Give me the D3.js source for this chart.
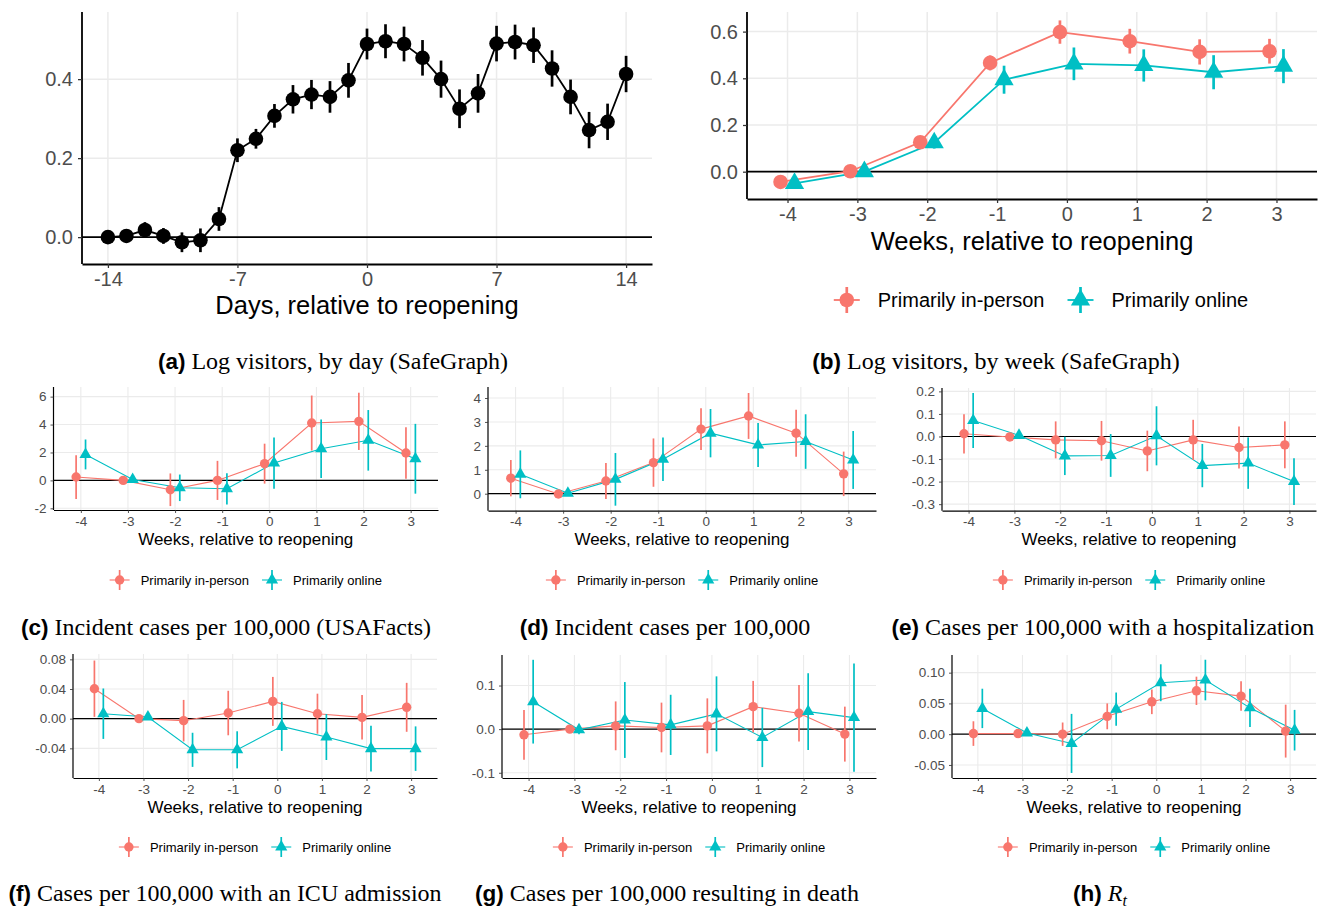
<!DOCTYPE html>
<html>
<head>
<meta charset="utf-8">
<script src="https://cdn.jsdelivr.net/npm/d3@7"></script>
<style>
  body { margin: 0; background: #fff; }
  svg text { font-family: "Liberation Sans", Arial, sans-serif; }
  .cap { font-family: "Liberation Serif", "Times New Roman", serif; }
</style>
</head>
<body>
<svg id="chart" width="1318" height="908"></svg>
<script>
// ---- data ----
const days = [-14, -13, -12, -11, -10, -9, -8, -7, -6, -5, -4, -3, -2, -1, 0, 1, 2, 3, 4, 5, 6, 7, 8, 9, 10, 11, 12, 13, 14];
const weeks = [-4, -3, -2, -1, 0, 1, 2, 3];

// (a) log visitors by day
const aEst = [0.0, 0.003, 0.018, 0.003, -0.013, -0.008, 0.046, 0.220, 0.249, 0.307, 0.349, 0.361, 0.355, 0.397,
  0.489, 0.496, 0.489, 0.454, 0.400, 0.325, 0.364, 0.490, 0.494, 0.486, 0.427, 0.355, 0.271, 0.292, 0.413];
const aErr = [0.015, 0.017, 0.02, 0.02, 0.025, 0.03, 0.03, 0.03, 0.025, 0.03, 0.036, 0.037, 0.04, 0.044,
  0.039, 0.043, 0.044, 0.045, 0.047, 0.049, 0.049, 0.045, 0.044, 0.045, 0.046, 0.044, 0.046, 0.046, 0.046];

// (b) log visitors by week
const bInPerson = [-0.044, 0.002, 0.126, 0.466, 0.598, 0.559, 0.513, 0.516];
const bInPersonErr = [0.015, 0.012, 0.02, 0.032, 0.05, 0.053, 0.054, 0.053];
const bOnline = [-0.05, 0.0, 0.124, 0.394, 0.462, 0.455, 0.426, 0.452];
const bOnlineErr = [0.02, 0.015, 0.025, 0.06, 0.07, 0.069, 0.073, 0.073];

// (c) incident cases (USAFacts)
const cInPerson = [0.24, 0.0, -0.67, 0.0, 1.2, 4.11, 4.23, 1.96];
const cInPersonErr = [1.57, 0.1, 1.17, 1.4, 1.43, 1.97, 2.05, 1.85];
const cOnline = [1.86, 0.07, -0.53, -0.6, 1.24, 2.27, 2.87, 1.55];
const cOnlineErr = [1.07, 0.2, 0.95, 1.12, 1.83, 2.1, 2.17, 2.5];

// (d) incident cases
const dInPerson = [0.65, -0.01, 0.53, 1.3, 2.7, 3.25, 2.53, 0.83];
const dInPersonErr = [0.76, 0.05, 0.75, 1.01, 0.87, 0.96, 0.98, 0.93];
const dOnline = [0.81, 0.02, 0.6, 1.44, 2.53, 2.04, 2.18, 1.41];
const dOnlineErr = [1.0, 0.1, 1.1, 0.91, 1.01, 0.92, 1.14, 1.21];

// (e) hospitalization
const eInPerson = [0.012, -0.002, -0.015, -0.019, -0.064, -0.015, -0.049, -0.037];
const eInPersonErr = [0.087, 0.008, 0.082, 0.088, 0.09, 0.089, 0.093, 0.104];
const eOnline = [0.071, 0.005, -0.086, -0.084, 0.003, -0.129, -0.118, -0.2];
const eOnlineErr = [0.122, 0.01, 0.085, 0.095, 0.131, 0.096, 0.114, 0.104];

// (f) ICU admission
const fInPerson = [0.0404, 0.0, -0.0027, 0.0076, 0.0233, 0.0067, 0.0018, 0.0153];
const fInPersonErr = [0.038, 0.002, 0.028, 0.03, 0.033, 0.027, 0.03, 0.033];
const fOnline = [0.0067, 0.0022, -0.042, -0.042, -0.0104, -0.0247, -0.0404, -0.0404];
const fOnlineErr = [0.034, 0.003, 0.023, 0.025, 0.033, 0.031, 0.031, 0.03];

// (g) death
const gInPerson = [-0.013, 0.0, 0.0076, 0.0038, 0.0076, 0.0516, 0.0365, -0.0114];
const gInPersonErr = [0.057, 0.004, 0.056, 0.057, 0.063, 0.059, 0.065, 0.063];
const gOnline = [0.063, -0.0015, 0.021, 0.0098, 0.035, -0.019, 0.0402, 0.0265];
const gOnlineErr = [0.096, 0.01, 0.087, 0.069, 0.086, 0.068, 0.088, 0.124];

// (h) Rt
const hInPerson = [0.001, 0.001, 0.0, 0.029, 0.0526, 0.0705, 0.0619, 0.005];
const hInPersonErr = [0.02, 0.003, 0.019, 0.021, 0.02, 0.023, 0.024, 0.043];
const hOnline = [0.0419, 0.002, -0.015, 0.0407, 0.0836, 0.088, 0.0428, 0.0065];
const hOnlineErr = [0.032, 0.004, 0.048, 0.027, 0.03, 0.033, 0.031, 0.033];

// tick values
const aXTicks = [-14, -7, 0, 7, 14];
const aYTicks = [0, 0.2, 0.4];
const bYTicks = [0, 0.2, 0.4, 0.6];
const cYTicks = [-2, 0, 2, 4, 6];
const dYTicks = [0, 1, 2, 3, 4];
const eYTicks = [-0.3, -0.2, -0.1, 0, 0.1, 0.2];
const fYTicks = [-0.04, 0, 0.04, 0.08];
const gYTicks = [-0.1, 0, 0.1];
const hYTicks = [-0.05, 0, 0.05, 0.1];

const groupNames = ['Primarily in-person', 'Primarily online'];
const red = '#F8766D', teal = '#00BFC4';

// ---- helpers ----
// R style minus sign
const fmt = spec => d => d3.format(spec)(d).replace('\u2212', '-');

const big = { tick: 20, title: 25.5, legend: 20, r: 7.3, tri: 160, lineW: 1.8, errW: 2.7, axisW: 1.8, gridW: 1.5,
    tickLen: 4, legendKey: 13, textOffset: 31, nextGap: 36 };
const small = { tick: 13.5, title: 17, legend: 13, r: 4.7, tri: 64, lineW: 1.1, errW: 1.7, axisW: 1.2, gridW: 1.1,
    tickLen: 3, legendKey: 10, textOffset: 21, nextGap: 23 };

function twoSeries(ip, ipErr, on, onErr) {
    return [
        { est: ip, err: ipErr, color: red, shape: d3.symbolCircle, dodge: -0.1 },
        { est: on, err: onErr, color: teal, shape: d3.symbolTriangle, dodge: 0.1 }
    ];
}

const xWeekDomain = [-4.58, 3.58];
const weekTitle = 'Weeks, relative to reopening';

const panels = [
    { box: { left: 82, right: 652, top: 12, bottom: 264 }, xs: days, xDomain: [-15.4, 15.4], xTicks: aXTicks,
      yDomain: [-0.068, 0.57], yTicks: aYTicks, yFmt: fmt('.1f'), xTitle: 'Days, relative to reopening', titleY: 314,
      st: big, series: [{ est: aEst, err: aErr, color: '#000', shape: d3.symbolCircle, dodge: 0 }], legendY: null },
    { box: { left: 747, right: 1317, top: 12, bottom: 199 }, xs: weeks, xDomain: xWeekDomain, xTicks: weeks,
      yDomain: [-0.117, 0.684], yTicks: bYTicks, yFmt: fmt('.1f'), xTitle: weekTitle, titleY: 250,
      st: big, series: twoSeries(bInPerson, bInPersonErr, bOnline, bOnlineErr), legendY: 300, legendDx: 9 },
    { box: { left: 53.5, right: 438, top: 387, bottom: 510 }, xs: weeks, xDomain: xWeekDomain, xTicks: weeks,
      yDomain: [-2.12, 6.69], yTicks: cYTicks, yFmt: fmt('d'), xTitle: weekTitle, titleY: 545,
      st: small, series: twoSeries(cInPerson, cInPersonErr, cOnline, cOnlineErr), legendY: 580 },
    { box: { left: 488, right: 876, top: 387, bottom: 510.7 }, xs: weeks, xDomain: xWeekDomain, xTicks: weeks,
      yDomain: [-0.71, 4.46], yTicks: dYTicks, yFmt: fmt('d'), xTitle: weekTitle, titleY: 545,
      st: small, series: twoSeries(dInPerson, dInPersonErr, dOnline, dOnlineErr), legendY: 580 },
    { box: { left: 942, right: 1316, top: 388, bottom: 510.7 }, xs: weeks, xDomain: xWeekDomain, xTicks: weeks,
      yDomain: [-0.329, 0.215], yTicks: eYTicks, yFmt: fmt('.1f'), xTitle: weekTitle, titleY: 545,
      st: small, series: twoSeries(eInPerson, eInPersonErr, eOnline, eOnlineErr), legendY: 580 },
    { box: { left: 73, right: 437, top: 654, bottom: 778 }, xs: weeks, xDomain: xWeekDomain, xTicks: weeks,
      yDomain: [-0.08, 0.0872], yTicks: fYTicks, yFmt: fmt('.2f'), xTitle: weekTitle, titleY: 813,
      st: small, series: twoSeries(fInPerson, fInPersonErr, fOnline, fOnlineErr), legendY: 847 },
    { box: { left: 502, right: 876, top: 655, bottom: 778 }, xs: weeks, xDomain: xWeekDomain, xTicks: weeks,
      yDomain: [-0.112, 0.17], yTicks: gYTicks, yFmt: fmt('.1f'), xTitle: weekTitle, titleY: 813,
      st: small, series: twoSeries(gInPerson, gInPersonErr, gOnline, gOnlineErr), legendY: 847 },
    { box: { left: 952, right: 1316, top: 655, bottom: 778 }, xs: weeks, xDomain: xWeekDomain, xTicks: weeks,
      yDomain: [-0.0712, 0.1287], yTicks: hYTicks, yFmt: fmt('.2f'), xTitle: weekTitle, titleY: 813,
      st: small, series: twoSeries(hInPerson, hInPersonErr, hOnline, hOnlineErr), legendY: 847 }
];

const captions = [
    { tag: '(a)', text: ' Log visitors, by day (SafeGraph)', x: 333, y: 369 },
    { tag: '(b)', text: ' Log visitors, by week (SafeGraph)', x: 996, y: 369 },
    { tag: '(c)', text: ' Incident cases per 100,000 (USAFacts)', x: 226, y: 635 },
    { tag: '(d)', text: ' Incident cases per 100,000', x: 665, y: 635 },
    { tag: '(e)', text: ' Cases per 100,000 with a hospitalization', x: 1103, y: 635 },
    { tag: '(f)', text: ' Cases per 100,000 with an ICU admission', x: 225, y: 901 },
    { tag: '(g)', text: ' Cases per 100,000 resulting in death', x: 667, y: 901 },
    { tag: '(h)', text: null, x: 1100, y: 901 }
];

const svg = d3.select('#chart');

function drawPanel(p) {
    const st = p.st;
    const g = svg.append('g');
    const x = d3.scaleLinear(p.xDomain, [p.box.left, p.box.right]);
    const y = d3.scaleLinear(p.yDomain, [p.box.bottom, p.box.top]);

    // grid
    g.append('g').selectAll('line').data(p.xTicks).join('line')
        .attr('x1', d => x(d)).attr('x2', d => x(d))
        .attr('y1', p.box.top).attr('y2', p.box.bottom)
        .attr('stroke', '#ebebeb').attr('stroke-width', st.gridW);
    g.append('g').selectAll('line').data(p.yTicks).join('line')
        .attr('x1', p.box.left).attr('x2', p.box.right)
        .attr('y1', d => y(d)).attr('y2', d => y(d))
        .attr('stroke', '#ebebeb').attr('stroke-width', st.gridW);

    // zero line
    g.append('line').attr('x1', p.box.left).attr('x2', p.box.right)
        .attr('y1', y(0)).attr('y2', y(0))
        .attr('stroke', '#000').attr('stroke-width', st.axisW);

    // lines first, then point ranges on top
    const line = d3.line().x(d => x(d.x)).y(d => y(d.v));
    p.series.forEach(s => {
        s.pts = p.xs.map((xv, i) => ({ x: xv + s.dodge, v: s.est[i], e: s.err[i] }));
        g.append('path').datum(s.pts).attr('d', line)
            .attr('fill', 'none').attr('stroke', s.color).attr('stroke-width', st.lineW);
    });
    p.series.forEach(s => {
        g.append('g').selectAll('line').data(s.pts).join('line')
            .attr('x1', d => x(d.x)).attr('x2', d => x(d.x))
            .attr('y1', d => y(d.v - d.e)).attr('y2', d => y(d.v + d.e))
            .attr('stroke', s.color).attr('stroke-width', st.errW);
        const size = s.shape === d3.symbolCircle ? Math.PI * st.r * st.r : st.tri;
        g.append('g').selectAll('path').data(s.pts).join('path')
            .attr('transform', d => `translate(${x(d.x)},${y(d.v)})`)
            .attr('d', d3.symbol(s.shape, size))
            .attr('fill', s.color);
    });

    // axes
    const xAxis = d3.axisBottom(x).tickValues(p.xTicks).tickFormat(fmt('d'))
        .tickSizeInner(st.tickLen).tickSizeOuter(0).tickPadding(st.tickLen);
    const yAxis = d3.axisLeft(y).tickValues(p.yTicks).tickFormat(p.yFmt)
        .tickSizeInner(st.tickLen).tickSizeOuter(0).tickPadding(st.tickLen + 1);
    const gx = g.append('g').attr('transform', `translate(0,${p.box.bottom})`).call(xAxis);
    const gy = g.append('g').attr('transform', `translate(${p.box.left},0)`).call(yAxis);
    [gx, gy].forEach(a => {
        a.select('.domain').attr('stroke', '#000').attr('stroke-width', st.axisW);
        a.selectAll('.tick line').attr('stroke', '#333').attr('stroke-width', st.axisW * 0.7);
        a.selectAll('.tick text').attr('fill', '#4d4d4d')
            .style('font-size', st.tick + 'px').style('font-family', '"Liberation Sans", Arial, sans-serif');
    });
    // y axis line spans the panel height
    gy.select('.domain').attr('d', `M0,${p.box.bottom}V${p.box.top}`);

    // axis title
    g.append('text').attr('x', (p.box.left + p.box.right) / 2).attr('y', p.titleY)
        .attr('text-anchor', 'middle').style('font-size', st.title + 'px').attr('fill', '#000')
        .text(p.xTitle);

    // legend
    if (p.legendY != null) {
        const lg = g.append('g');
        const k = st.legendKey;
        let cx = 0;
        p.series.forEach((s, i) => {
            const item = lg.append('g').attr('transform', `translate(${cx},0)`);
            item.append('line').attr('x1', -k).attr('x2', k).attr('y1', 0).attr('y2', 0)
                .attr('stroke', s.color).attr('stroke-width', st.lineW);
            item.append('line').attr('x1', 0).attr('x2', 0).attr('y1', -k).attr('y2', k)
                .attr('stroke', s.color).attr('stroke-width', st.errW);
            const size = s.shape === d3.symbolCircle ? Math.PI * st.r * st.r : st.tri;
            item.append('path').attr('d', d3.symbol(s.shape, size)).attr('fill', s.color);
            const t = item.append('text').attr('x', st.textOffset).attr('y', st.legend * 0.36)
                .style('font-size', st.legend + 'px').attr('fill', '#000').text(groupNames[i]);
            cx += st.textOffset + t.node().getComputedTextLength() + st.nextGap;
        });
        const bb = lg.node().getBBox();
        const center = (p.box.left + p.box.right) / 2 + (p.legendDx || 0);
        lg.attr('transform', `translate(${center - bb.width / 2 - bb.x},${p.legendY})`);
    }
}

panels.forEach(drawPanel);

// captions
const serif = '"Liberation Serif", "Times New Roman", serif';
captions.forEach(c => {
    const t = svg.append('text').attr('class', 'cap').attr('x', c.x).attr('y', c.y)
        .attr('text-anchor', 'middle').style('font-size', '24px').attr('fill', '#000');
    t.append('tspan').style('font-family', '"Liberation Sans", Arial, sans-serif')
        .style('font-weight', 'bold').style('font-size', '22.5px').text(c.tag);
    if (c.text) {
        t.append('tspan').style('font-family', serif).text(c.text);
    } else {
        t.append('tspan').style('font-family', serif).style('font-style', 'italic').text('\u00a0R');
        t.append('tspan').style('font-family', serif).style('font-style', 'italic')
            .style('font-size', '16px').attr('dy', 5).text('t');
    }
});
</script>
</body>
</html>
